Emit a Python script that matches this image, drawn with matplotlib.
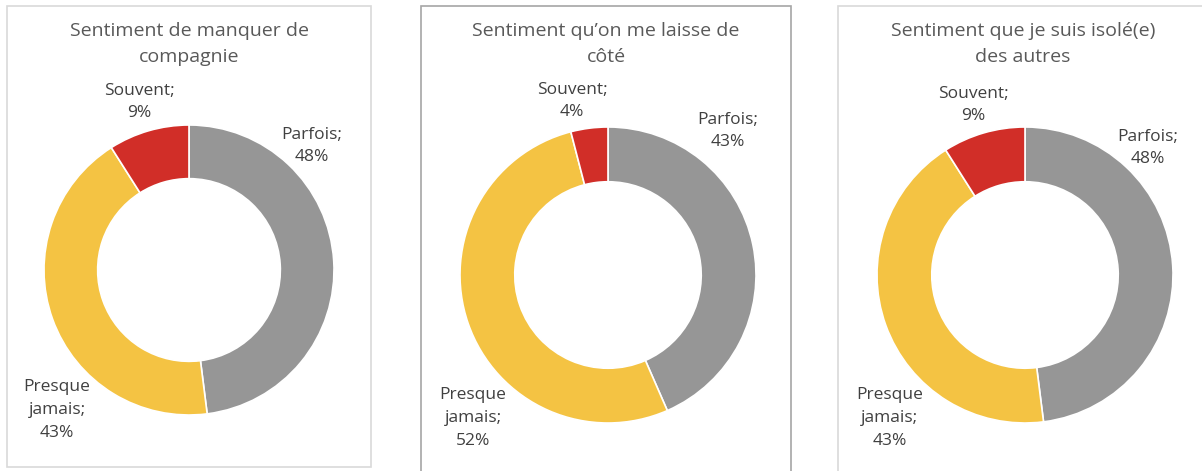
import matplotlib
matplotlib.use("Agg")
import matplotlib.pyplot as plt
from matplotlib.patches import Rectangle

plt.rcParams["font.family"] = ["Open Sans", "DejaVu Sans"]

# Data
titles = [
    "Sentiment de manquer de\ncompagnie",
    "Sentiment qu\u2019on me laisse de\ncôté",
    "Sentiment que je suis isolé(e)\ndes autres",
]
categories = ["Parfois", "Presque jamais", "Souvent"]
label_names = ["Parfois;", "Presque\njamais;", "Souvent;"]
values_compagnie = [48, 43, 9]
values_cote = [43, 52, 4]
values_isole = [48, 43, 9]
colors = ["#969696", "#F4C343", "#D12E28"]

W, H = 1202, 471

fig = plt.figure(figsize=(W / 100, H / 100), dpi=100)
ax = fig.add_axes([0, 0, 1, 1])

# layout in pixel coordinates (y measured from top)
panels = [
    dict(box=(7, 6, 364, 461), edge="#d9d9d9", center=(189, 270), r=145,
         title_x=189,
         lab=[(312, 146), (57, 410), (139, 102)]),
    dict(box=(421, 6, 370, 480), edge="#a6a6a6", center=(608, 275), r=148,
         title_x=606,
         lab=[(728, 131), (473, 418), (572, 101)]),
    dict(box=(838, 6, 400, 480), edge="#d9d9d9", center=(1025, 275), r=148,
         title_x=1023,
         lab=[(1148, 148), (890, 418), (973, 105)]),
]
series = [values_compagnie, values_cote, values_isole]

for p, vals, title in zip(panels, series, titles):
    x0, y0, w, h = p["box"]
    ax.add_patch(Rectangle((x0, H - y0 - h), w, h, fill=False,
                           edgecolor=p["edge"], linewidth=1.2, clip_on=False))
    cx, cy = p["center"]
    ax.pie(vals, colors=colors, startangle=90, counterclock=False,
           center=(cx, H - cy), radius=p["r"], frame=True,
           wedgeprops=dict(width=p["r"] * 0.37, edgecolor="white", linewidth=1.2))
    ax.text(p["title_x"], H - 44, title, ha="center", va="center",
            fontsize=14, color="#595959", linespacing=1.5)
    for name, v, (lx, ly) in zip(label_names, vals, p["lab"]):
        ax.text(lx, H - ly, f"{name}\n{v}%", ha="center", va="center",
                fontsize=12.5, color="#404040", linespacing=1.55)

ax.set_xlim(0, W)
ax.set_ylim(0, H)
ax.set_aspect("equal")
ax.axis("off")
fig.savefig("out.png", dpi=100)
